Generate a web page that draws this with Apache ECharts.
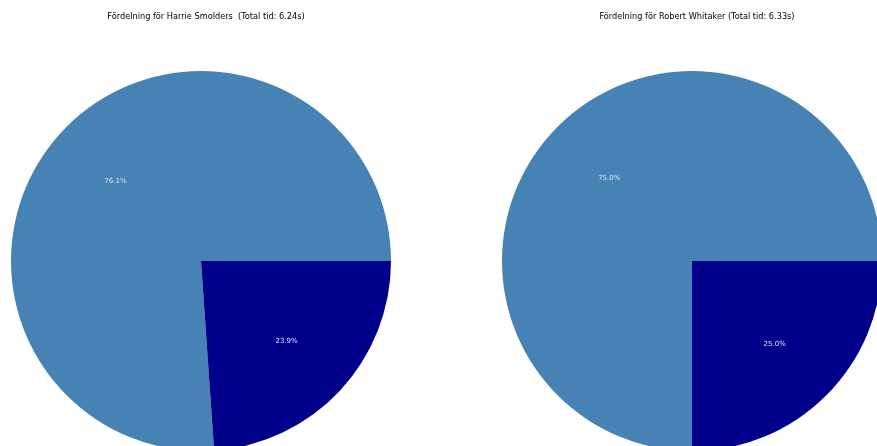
<!DOCTYPE html>
<html>
<head>
<meta charset="utf-8">
<script src="https://cdn.jsdelivr.net/npm/echarts@6/dist/echarts.min.js"></script>
<style>html,body{margin:0;padding:0;background:#fff;}#c{width:877px;height:446px;}</style>
</head>
<body>
<div id="c"></div>
<script>
const categories = ['A', 'B'];
const riders = ['Harrie Smolders ', 'Robert Whitaker'];
const totals = ['6.24', '6.33'];
const valuesHarrie = [76.1, 23.9];
const valuesRobert = [75.0, 25.0];
const colors = ['#4682b4', '#00008b'];

const chart = echarts.init(document.getElementById('c'));
const centers = [[201, 261], [692, 261]];
const R = 190;
const allValues = [valuesHarrie, valuesRobert];
const series = [];
const titles = [];
allValues.forEach((vals, i) => {
  const data = vals.map((v, j) => ({ name: categories[j], value: v, itemStyle: { color: colors[j] } }));
  series.push({
    type: 'pie', center: centers[i], radius: [0, R], startAngle: 0, clockwise: false,
    silent: true, animation: false, label: { show: false }, labelLine: { show: false },
    data: data
  });
  series.push({
    type: 'pie', center: centers[i], radius: [R * 0.2, R], startAngle: 0, clockwise: false,
    silent: true, animation: false, z: 5,
    itemStyle: { color: 'rgba(0,0,0,0)' },
    label: { show: true, position: 'inside', formatter: p => p.value.toFixed(1) + '%',
      color: '#dfe6f2', fontSize: 7, fontFamily: 'DejaVu Sans' },
    labelLine: { show: false },
    data: vals.map((v, j) => ({ name: categories[j], value: v }))
  });
  titles.push({
    text: 'Fördelning för ' + riders[i] + ' (Total tid: ' + totals[i] + 's)',
    left: centers[i][0], top: 8, textAlign: 'center',
    textStyle: { fontSize: 8.2, fontWeight: 'normal', color: '#000', fontFamily: 'DejaVu Sans' }
  });
});
chart.setOption({ animation: false, title: titles, series: series });
</script>
</body>
</html>
